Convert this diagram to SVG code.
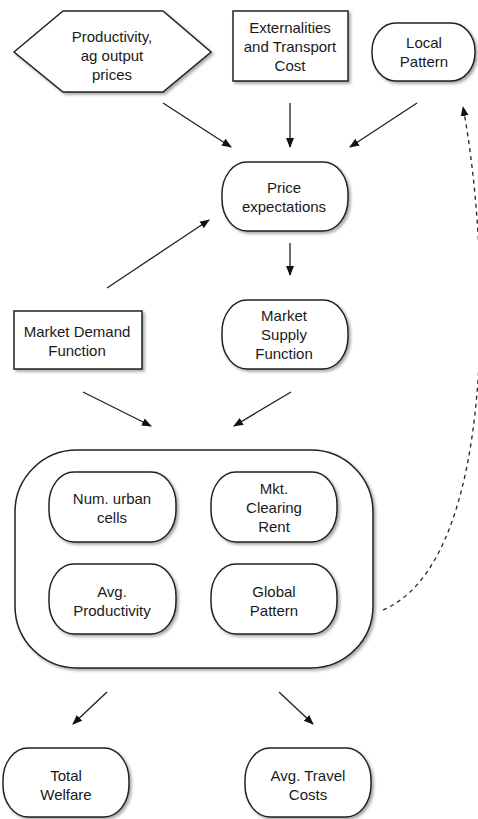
<svg xmlns="http://www.w3.org/2000/svg" width="478" height="819" viewBox="0 0 478 819">
<style>
.n{fill:#fff;stroke:#222;stroke-width:1.5;filter:url(#sh)}
.t{font-family:"Liberation Sans",Arial,sans-serif;font-size:15px;fill:#1a1a1a;text-anchor:middle}
.c{fill:none;stroke:#222;stroke-width:1.3}
</style>
<defs>
<filter id="sh" x="-10%" y="-10%" width="130%" height="130%">
<feDropShadow dx="2" dy="2" stdDeviation="1.5" flood-color="#000" flood-opacity="0.35"/>
</filter>
<marker id="ah" viewBox="0 0 10 10" refX="9" refY="5" markerWidth="10" markerHeight="10" markerUnits="userSpaceOnUse" orient="auto">
<path d="M0,1 L10,5 L0,9 Z" fill="#111"/>
</marker>
</defs>
<rect width="478" height="819" fill="#fff"/>
<g id="connectors">
<line class="c" x1="163" y1="103" x2="231" y2="147" marker-end="url(#ah)"/>
<line class="c" x1="290" y1="103" x2="290" y2="147" marker-end="url(#ah)"/>
<line class="c" x1="417" y1="103" x2="350" y2="147" marker-end="url(#ah)"/>
<line class="c" x1="107" y1="288" x2="209" y2="220" marker-end="url(#ah)"/>
<line class="c" x1="290" y1="243" x2="290" y2="275" marker-end="url(#ah)"/>
<line class="c" x1="83" y1="392" x2="151" y2="426" marker-end="url(#ah)"/>
<line class="c" x1="291" y1="392" x2="234" y2="426" marker-end="url(#ah)"/>
<line class="c" x1="107" y1="692" x2="73" y2="724" marker-end="url(#ah)"/>
<line class="c" x1="279" y1="692" x2="313" y2="724" marker-end="url(#ah)"/>
<path class="c" d="M383,610 C500,560 490,250 463,107" stroke-dasharray="4,4" marker-end="url(#ah)"/>
</g>
<g id="productivity">
<polygon class="n" points="14,52 63,11 163,11 211,52 163,92 63,92"/>
<text class="t" x="112" y="42">Productivity,</text>
<text class="t" x="112" y="61">ag output</text>
<text class="t" x="112" y="80">prices</text>
</g>
<g id="externalities">
<rect class="n" x="233" y="11" width="115" height="70"/>
<text class="t" x="290" y="33">Externalities</text>
<text class="t" x="290" y="52">and Transport</text>
<text class="t" x="290" y="71">Cost</text>
</g>
<g id="local-pattern">
<rect class="n" x="372" y="23" width="103" height="58" rx="24" ry="28"/>
<text class="t" x="424" y="48">Local</text>
<text class="t" x="424" y="67">Pattern</text>
</g>
<g id="price-expectations">
<rect class="n" x="222" y="162" width="126" height="69" rx="25" ry="32"/>
<text class="t" x="284" y="193">Price</text>
<text class="t" x="284" y="212">expectations</text>
</g>
<g id="market-demand">
<rect class="n" x="14" y="311" width="128" height="58"/>
<text class="t" x="77" y="337">Market Demand</text>
<text class="t" x="77" y="356">Function</text>
</g>
<g id="market-supply">
<rect class="n" x="222" y="300" width="126" height="69" rx="25" ry="32"/>
<text class="t" x="284" y="321">Market</text>
<text class="t" x="284" y="340">Supply</text>
<text class="t" x="284" y="359">Function</text>
</g>
<g id="equilibrium">
<rect class="n" x="15" y="450" width="358" height="218" rx="62" ry="62"/>
</g>
<g id="num-urban-cells">
<rect class="n" x="49" y="472" width="127" height="70" rx="25" ry="32"/>
<text class="t" x="112" y="504">Num. urban</text>
<text class="t" x="112" y="523">cells</text>
</g>
<g id="mkt-clearing-rent">
<rect class="n" x="211" y="472" width="126" height="70" rx="25" ry="32"/>
<text class="t" x="274" y="494">Mkt.</text>
<text class="t" x="274" y="513">Clearing</text>
<text class="t" x="274" y="532">Rent</text>
</g>
<g id="avg-productivity">
<rect class="n" x="49" y="564" width="127" height="70" rx="25" ry="32"/>
<text class="t" x="112" y="597">Avg.</text>
<text class="t" x="112" y="616">Productivity</text>
</g>
<g id="global-pattern">
<rect class="n" x="211" y="564" width="126" height="70" rx="25" ry="32"/>
<text class="t" x="274" y="597">Global</text>
<text class="t" x="274" y="616">Pattern</text>
</g>
<g id="total-welfare">
<rect class="n" x="3" y="748" width="126" height="69" rx="25" ry="32"/>
<text class="t" x="66" y="781">Total</text>
<text class="t" x="66" y="800">Welfare</text>
</g>
<g id="avg-travel-costs">
<rect class="n" x="245" y="748" width="126" height="69" rx="25" ry="32"/>
<text class="t" x="308" y="781">Avg. Travel</text>
<text class="t" x="308" y="800">Costs</text>
</g>
</svg>
